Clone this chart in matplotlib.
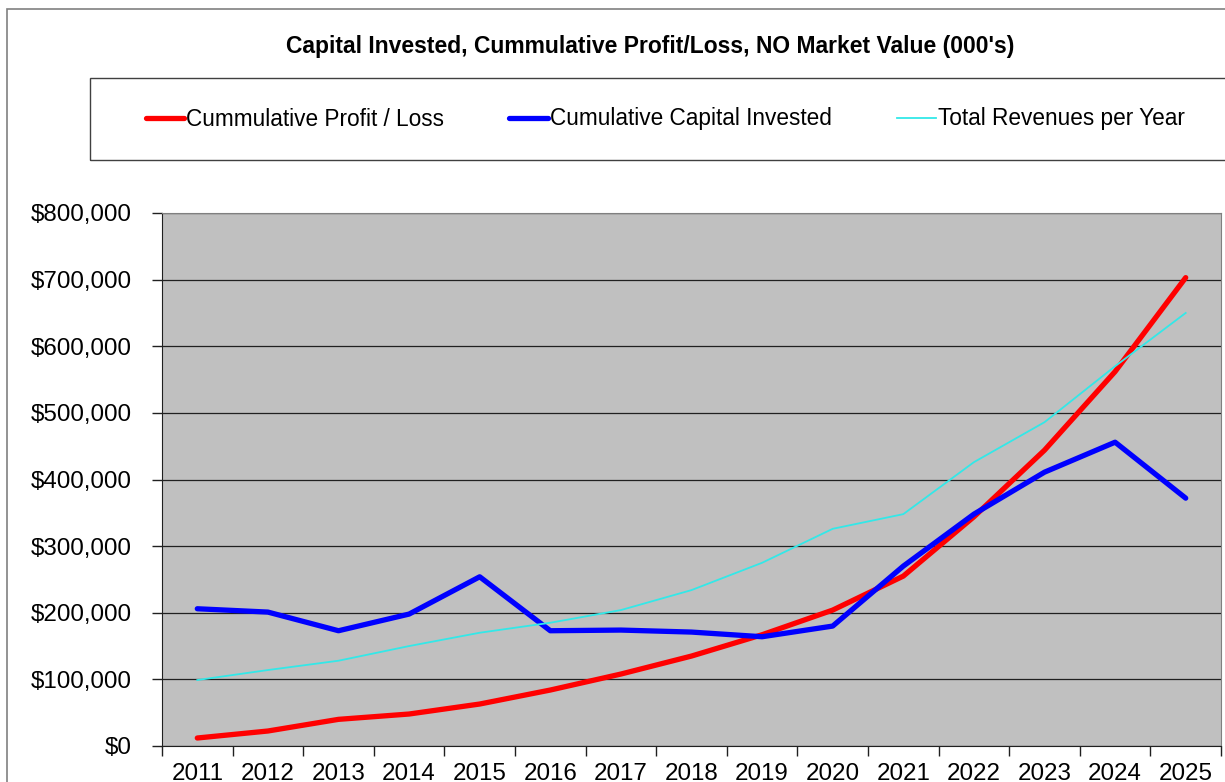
import numpy as np
import matplotlib
matplotlib.use("Agg")
import matplotlib.pyplot as plt
from matplotlib.patches import Rectangle
from matplotlib.ticker import FuncFormatter, FixedLocator

plt.rcParams['font.family'] = ['Liberation Sans', 'DejaVu Sans']

years = ["2011", "2012", "2013", "2014", "2015", "2016", "2017", "2018",
         "2019", "2020", "2021", "2022", "2023", "2024", "2025"]
profit_loss = [12000, 22500, 40000, 48000, 63000, 84000, 108000, 135000,
               167000, 204000, 255000, 344000, 444000, 562000, 703000]
capital_invested = [206000, 201000, 173000, 198000, 254000, 173000, 174000, 171000,
                    164000, 180000, 270000, 348000, 411000, 456000, 372000]
revenues = [99000, 114000, 128000, 150000, 170000, 185000, 204000, 234000,
            275000, 326000, 348000, 426000, 486000, 570000, 650000]

fig = plt.figure(figsize=(12.25, 7.82), dpi=100)
W, H = 1225, 782

# outer chart border (cut off at right/bottom)
fig.patches.append(Rectangle((7 / W, -0.1), 1.2, (H - 9) / H + 0.1,
                             transform=fig.transFigure, fill=False,
                             edgecolor="#808080", linewidth=1.2))
# legend box
fig.patches.append(Rectangle((90 / W, (H - 160) / H), 1.2, 82 / H,
                             transform=fig.transFigure, fill=False,
                             edgecolor="#404040", linewidth=1.0))

ax = fig.add_axes([162 / W, 36 / H, 1059 / W, 533 / H])
ax.set_facecolor("#C0C0C0")
x = np.arange(len(years))

l1, = ax.plot(x, profit_loss, color="#FF0000", lw=3.8, solid_capstyle="round",
              solid_joinstyle="round", label="Cummulative Profit / Loss", zorder=3)
l2, = ax.plot(x, capital_invested, color="#0000FF", lw=3.8, solid_capstyle="round",
              solid_joinstyle="round", label="Cumulative Capital Invested", zorder=3)
l3, = ax.plot(x, revenues, color="#33E8E8", lw=1.3,
              label="Total Revenues per Year", zorder=3)

ax.set_xlim(-0.5, len(years) - 0.5)
ax.set_ylim(0, 800000)
ax.set_yticks(np.arange(0, 800001, 100000))
ax.yaxis.set_major_formatter(FuncFormatter(lambda v, p: f"${v:,.0f}"))
ax.grid(axis="y", color="#202020", lw=0.9)
ax.set_axisbelow(True)

ax.set_xticks(x)
ax.set_xticklabels(years)
ax.xaxis.set_minor_locator(FixedLocator(np.arange(-0.5, len(years), 1)))
ax.tick_params(axis="x", which="major", length=0, pad=12, labelsize=17.4)
ax.tick_params(axis="x", which="minor", length=7, width=1, color="#202020")
ax.tick_params(axis="y", length=7, width=1, color="#202020", pad=15, labelsize=17.4)

for s in ["top", "right"]:
    ax.spines[s].set_color("#808080")
for s in ["left", "bottom"]:
    ax.spines[s].set_color("#202020")

fig.text(650 / W, 1 - 47 / H, "Capital Invested, Cummulative Profit/Loss, NO Market Value (000's)",
         ha="center", va="center", fontsize=16.5, fontweight="bold")

fig.legend(handles=[l1, l2, l3], loc="center", bbox_to_anchor=(665 / W, 1 - 119 / H),
           ncol=3, frameon=False, fontsize=16.3, handlelength=1.7, handletextpad=0.08,
           columnspacing=2.9)

fig.savefig("out.png", dpi=100)
